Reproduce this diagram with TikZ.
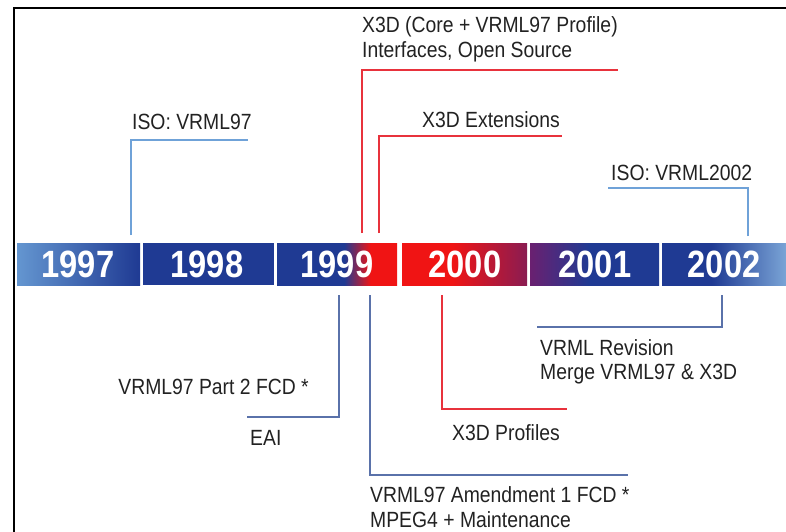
\documentclass[tikz,border=0pt]{standalone}
\usepackage{fontspec}
\setmainfont{Liberation Sans}
\newfontfamily\labelfont[FakeStretch=0.88]{Liberation Sans}
\newfontfamily\yearfont[FakeStretch=0.86]{Liberation Sans}
\definecolor{darkblue}{HTML}{1F3A93}
\definecolor{lightbar}{HTML}{6496D0}
\definecolor{lightend}{HTML}{7AA4D6}
\definecolor{barred}{HTML}{F01414}
\definecolor{maroon}{HTML}{8A1C52}
\definecolor{purp}{HTML}{6A2070}
\definecolor{isoline}{HTML}{6FA2D8}
\definecolor{slateline}{HTML}{5A72AA}
\definecolor{x3dline}{HTML}{E8323C}
\definecolor{txt}{HTML}{222222}
\pgfdeclarehorizontalshading{sh1997}{100bp}{color(0bp)=(lightbar); color(25bp)=(lightbar); color(75bp)=(darkblue); color(100bp)=(darkblue)}
\pgfdeclarehorizontalshading{sh1999}{100bp}{color(0bp)=(darkblue); color(53bp)=(darkblue); color(64bp)=(barred); color(100bp)=(barred)}
\pgfdeclarehorizontalshading{sh2000}{100bp}{color(0bp)=(barred); color(45bp)=(barred); color(75bp)=(maroon); color(100bp)=(maroon)}
\pgfdeclarehorizontalshading{sh2001}{100bp}{color(0bp)=(purp); color(25bp)=(purp); color(48bp)=(darkblue); color(100bp)=(darkblue)}
\pgfdeclarehorizontalshading{sh2002}{100bp}{color(0bp)=(darkblue); color(45bp)=(darkblue); color(75bp)=(lightend); color(100bp)=(lightend)}
\tikzset{
  lbl/.style={inner sep=0pt, anchor=base west, text=txt, font=\labelfont\fontsize{22}{26}\selectfont},
  lblr/.style={lbl, anchor=base east},
  yr/.style={inner sep=0pt, text=white, font=\yearfont\bfseries\fontsize{38}{42}\selectfont},
  isoconn/.style={draw=isoline, line width=2pt},
  slateconn/.style={draw=slateline, line width=1.8pt},
  redconn/.style={draw=x3dline, line width=1.8pt},
}
\begin{document}
\begin{tikzpicture}[x=1pt,y=-1pt]
\useasboundingbox (0,0) rectangle (786,532);
\fill[white] (0,0) rectangle (786,532);
% frame
\draw[black, line width=2pt] (14,532) -- (14,8) -- (786,8);
% bar segments
\shade[shading=sh1997] (17,243) rectangle (140,285);
\fill[darkblue] (143,243) rectangle (274,285);
\shade[shading=sh1999] (277,243) rectangle (397,285);
\shade[shading=sh2000] (402,243) rectangle (527,285);
\shade[shading=sh2001] (530,243) rectangle (659,285);
\shade[shading=sh2002] (662,243) rectangle (786,285);
% years
\node[yr] (y1997) at (78,264) {1997};
\node[yr] (y1998) at (207,264) {1998};
\node[yr] (y1999) at (337,264) {1999};
\node[yr] (y2000) at (465,264) {2000};
\node[yr] (y2001) at (595,264) {2001};
\node[yr] (y2002) at (724,264) {2002};
% labels above
\node[lbl] (iso97) at (132,129) {ISO: VRML97};
\node[lbl] (x3dA) at (362,33) {X3D (Core + VRML97 Profile)};
\node[lbl] (x3dB) at (362,58) {Interfaces, Open Source};
\node[lbl] (x3dext) at (422,128) {X3D Extensions};
\node[lbl] (iso02) at (611,180) {ISO: VRML2002};
% labels below
\node[lbl] (revA) at (540,355) {VRML Revision};
\node[lbl] (revB) at (540,379) {Merge VRML97 \& X3D};
\node[lbl] (prof) at (452,440) {X3D Profiles};
\node[lbl] (amdA) at (370,502) {VRML97 Amendment 1 FCD *};
\node[lbl] (amdB) at (370,527) {MPEG4 + Maintenance};
\node[lblr] (p2) at (309,394) {VRML97 Part 2 FCD *};
\node[lbl] (eai) at (250,445) {EAI};
% connector coordinates
\coordinate (c1a) at (131,235); \coordinate (c1b) at (131,140); \coordinate (c1c) at (248,140);
\coordinate (c2a) at (362,233); \coordinate (c2b) at (362,70); \coordinate (c2c) at (618,70);
\coordinate (c3a) at (379,233); \coordinate (c3b) at (379,136); \coordinate (c3c) at (562,136);
\coordinate (c4a) at (748,236); \coordinate (c4b) at (748,188); \coordinate (c4c) at (608,188);
\coordinate (c5a) at (722,295); \coordinate (c5b) at (722,327); \coordinate (c5c) at (537,327);
\coordinate (c6a) at (442,295); \coordinate (c6b) at (442,409); \coordinate (c6c) at (567,409);
\coordinate (c7a) at (370,295); \coordinate (c7b) at (370,475); \coordinate (c7c) at (628,475);
\coordinate (c8a) at (339,295); \coordinate (c8b) at (339,417); \coordinate (c8c) at (247,417);
% connectors
\draw[isoconn] (c1a) -- (c1b) -- (c1c);
\draw[redconn] (c2a) -- (c2b) -- (c2c);
\draw[redconn] (c3a) -- (c3b) -- (c3c);
\draw[isoconn] (c4a) -- (c4b) -- (c4c);
\draw[slateconn] (c5a) -- (c5b) -- (c5c);
\draw[redconn] (c6a) -- (c6b) -- (c6c);
\draw[slateconn] (c7a) -- (c7b) -- (c7c);
\draw[slateconn] (c8a) -- (c8b) -- (c8c);
\end{tikzpicture}
\end{document}
